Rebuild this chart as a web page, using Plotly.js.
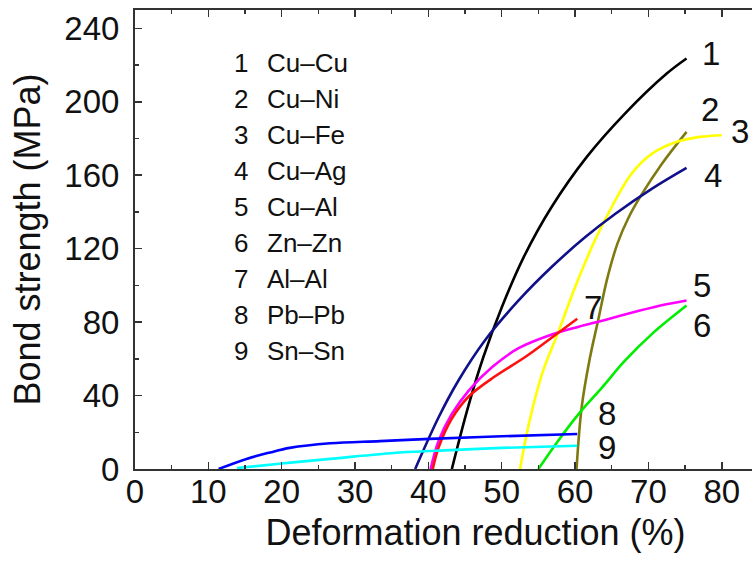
<!DOCTYPE html>
<html>
<head>
<meta charset="utf-8">
<script src="https://cdn.plot.ly/plotly-3.0.1.min.js"></script>
<style>
html, body { margin: 0; padding: 0; overflow: hidden; background: #fff; }
#wrap { width: 752px; height: 561px; overflow: hidden; position: relative; }
#chart { width: 830px; height: 561px; }
</style>
</head>
<body>
<div id="wrap"><div id="chart"></div></div>
<script>
// ---- data ----
const seriesNames = ['Cu–Cu', 'Cu–Ni', 'Cu–Fe', 'Cu–Ag', 'Cu–Al', 'Zn–Zn', 'Al–Al', 'Pb–Pb', 'Sn–Sn'];
const seriesNumbers = ['1', '2', '3', '4', '5', '6', '7', '8', '9'];

const xCuCu = [43.2, 45.4, 47.5, 50.0, 53.0, 56.8, 61.6, 66.8, 72.5, 75.2];
const yCuCu = [0, 33.6, 61, 88, 115.4, 142.7, 170, 193.6, 215.4, 223.6];

const xCuNi = [60.2, 60.9, 62.0, 63.2, 64.4, 65.8, 67.3, 69.0, 71.8, 75.2];
const yCuNi = [0, 33.6, 60, 82, 104, 123, 137, 149, 166, 183.6];

const xCuFe = [52.5, 53.7, 55.5, 57.8, 60.0, 62.7, 65.0, 67.7, 70.5, 73.7, 77.0, 80.0];
const yCuFe = [0, 24.5, 51.8, 75.5, 99, 124.5, 142.7, 160.9, 171.8, 178, 180.9, 181.8];

const xCuAg = [38.2, 41.4, 44.1, 47.7, 52.3, 56.8, 61.4, 65.5, 70.5, 75.2];
const yCuAg = [0, 28.2, 48.2, 70, 91.8, 110, 126.3, 139, 152.7, 164];

const xCuAl = [40.3, 41.4, 43.2, 45.5, 48.7, 52.3, 56.8, 60.5, 64.1, 68.2, 71.8, 75.2];
const yCuAl = [0, 15.4, 30, 42.7, 55.5, 65.8, 73.2, 77.5, 81.2, 85.6, 89.2, 91.8];

const xZnZn = [55.0, 57.7, 60.5, 63.7, 66.8, 70.5, 75.2];
const yZnZn = [0, 15.4, 30, 44.5, 59, 73.6, 89];

const xAlAl = [40.6, 41.4, 43.2, 45.5, 49.1, 53.2, 56.8, 60.3];
const yAlAl = [0, 11.8, 27.5, 39.5, 50.5, 61, 71.5, 81.8];

const xPbPb = [11.4, 15.2, 18.4, 21.1, 26.6, 33.4, 40.2, 50.0, 60.3];
const yPbPb = [0, 5.5, 9, 11.5, 14, 15.2, 16.4, 17.8, 19.1];

const xSnSn = [13.9, 20.0, 26.6, 36.1, 43.0, 50.0, 60.3];
const ySnSn = [0.5, 3, 5.5, 9, 10.3, 11.5, 12.7];

const xTickVals = [0, 10, 20, 30, 40, 50, 60, 70, 80];
const yTickVals = [0, 40, 80, 120, 160, 200, 240];

// ---- styling ----
const FONT = 'Liberation Sans, Arial, Helvetica, sans-serif';
const colors = ['#000000', '#7f7a10', '#ffff00', '#10108a', '#ff00ff', '#00ee00', '#ff1010', '#0000ff', '#00ffff'];
const xs = [xCuCu, xCuNi, xCuFe, xCuAg, xCuAl, xZnZn, xAlAl, xPbPb, xSnSn];
const ys = [yCuCu, yCuNi, yCuFe, yCuAg, yCuAl, yZnZn, yAlAl, yPbPb, ySnSn];

const traces = xs.map((x, i) => ({
  type: 'scatter', mode: 'lines', x: x, y: ys[i], name: seriesNames[i],
  line: { color: colors[i], width: 2.6, shape: 'spline', smoothing: 1 },
  showlegend: false, hoverinfo: 'skip'
}));

// curve end labels
const labelPos = [[78.6, 226.4], [78.4, 195.8], [82.5, 183.6], [78.8, 160], [77.3, 100], [77.3, 78.2], [62.4, 88.2], [64.3, 30.5], [64.3, 11.8]];
const annotations = [];
labelPos.forEach((p, i) => {
  annotations.push({ x: p[0], y: p[1], xref: 'x', yref: 'y', text: seriesNumbers[i], showarrow: false,
    font: { family: FONT, size: 33, color: '#111' }, xanchor: 'center', yanchor: 'middle' });
});
// text legend
const legendY0 = 220.9, legendStep = 19.6;
seriesNames.forEach((n, i) => {
  const yy = legendY0 - i * legendStep;
  annotations.push({ x: 14.4, y: yy, xref: 'x', yref: 'y', text: seriesNumbers[i], showarrow: false,
    font: { family: FONT, size: 26, color: '#111' }, xanchor: 'center', yanchor: 'middle' });
  annotations.push({ x: 17.7, y: yy, xref: 'x', yref: 'y', text: n, showarrow: false,
    font: { family: FONT, size: 26, color: '#111' }, xanchor: 'left', yanchor: 'middle' });
});

const axisCommon = {
  showgrid: false, zeroline: false, showline: true, linecolor: '#333', linewidth: 2,
  mirror: 'ticks', ticks: 'inside', ticklen: 7, tickwidth: 1.5, tickcolor: '#333',
  tickfont: { family: FONT, size: 33, color: '#111' }
};

const layout = {
  width: 830, height: 561,
  margin: { l: 135, r: 14, t: 10, b: 92 },
  paper_bgcolor: '#fff', plot_bgcolor: '#fff',
  font: { family: FONT, color: '#111' },
  xaxis: Object.assign({}, axisCommon, {
    range: [0, 92.85], tickmode: 'array', tickvals: xTickVals, ticktext: xTickVals.map(String),
    minor: { tickmode: 'linear', tick0: 0, dtick: 5, ticklen: 4, tickwidth: 1.5, tickcolor: '#333', ticks: 'inside' },
    ticklabelstandoff: -8,
    title: { text: 'Deformation reduction (%)', font: { family: FONT, size: 36, color: '#111' }, standoff: 11 }
  }),
  yaxis: Object.assign({}, axisCommon, {
    range: [0, 250], tickmode: 'array', tickvals: yTickVals, ticktext: yTickVals.map(String),
    minor: { tickmode: 'linear', tick0: 0, dtick: 20, ticklen: 4, tickwidth: 1.5, tickcolor: '#333', ticks: 'inside' },
    ticklabelstandoff: 7,
    title: { text: 'Bond strength (MPa)', font: { family: FONT, size: 36, color: '#111' }, standoff: 13 }
  }),
  annotations: annotations
};

Plotly.newPlot('chart', traces, layout, { displayModeBar: false, staticPlot: true });
</script>
</body>
</html>
